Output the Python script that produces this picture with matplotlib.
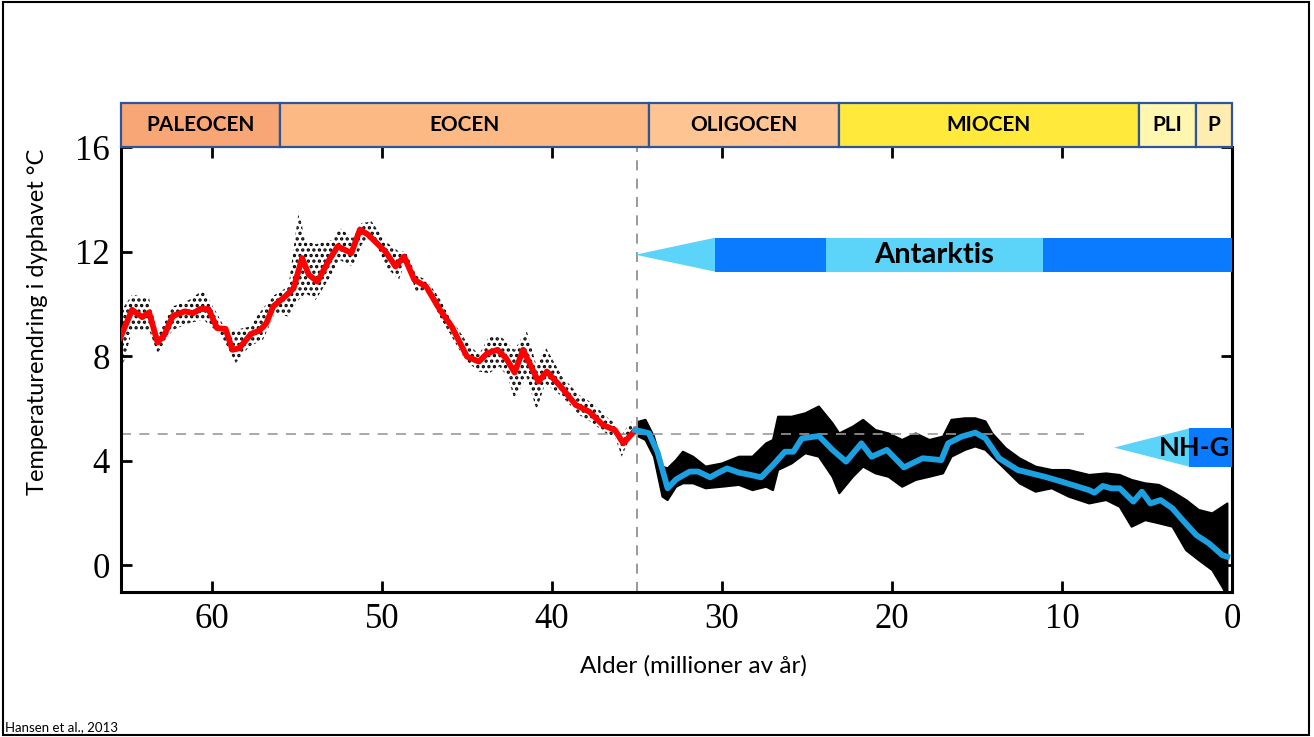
import numpy as np
import matplotlib
matplotlib.use('Agg')
import matplotlib.pyplot as plt
from matplotlib.patches import Rectangle, Polygon

# glattet kurve, paleocen-eocen (rød)
red_age = [65.4, 64.7, 64.1, 63.7, 63.2, 62.8, 62.3, 61.6, 61.1, 60.7, 60.2, 59.7, 59.2, 58.8,
           58.4, 57.7, 57.2, 56.8, 56.4, 55.7, 55.2, 54.7, 54.3, 53.8, 53.1, 52.6, 51.8, 51.3,
           50.8, 49.8, 49.2, 48.7, 48.1, 47.4, 46.6, 45.9, 45.0, 44.3, 43.8, 43.2, 42.7, 42.2,
           41.7, 40.8, 40.3, 39.4, 38.6, 37.8, 37.0, 36.3, 35.8, 35.1]
red_temp = [8.69, 9.77, 9.49, 9.67, 8.52, 8.81, 9.54, 9.71, 9.64, 9.80, 9.80, 9.07, 9.04, 8.24,
            8.30, 8.85, 8.98, 9.26, 9.90, 10.28, 10.60, 11.75, 11.11, 10.85, 11.69, 12.20, 11.94, 12.84,
            12.64, 12.00, 11.43, 11.81, 10.92, 10.66, 9.78, 9.13, 7.98, 7.79, 8.11, 8.24, 7.92, 7.37,
            8.24, 7.02, 7.41, 6.77, 6.13, 5.87, 5.36, 5.17, 4.66, 5.17]

# glattet kurve, oligocen-i dag (blå)
blue_age = [35.1, 34.3, 33.8, 33.5, 33.2, 32.7, 31.9, 31.4, 30.7, 30.2, 29.7, 29.0, 28.3, 27.7,
            27.0, 26.3, 25.8, 25.3, 24.3, 23.5, 22.7, 21.8, 21.2, 20.3, 19.3, 18.2, 17.1, 16.7,
            15.9, 15.1, 14.5, 13.7, 12.6, 11.0, 10.0, 8.4, 8.1, 7.6, 7.1, 6.6, 5.8, 5.3,
            4.8, 4.2, 3.5, 2.9, 2.1, 1.35, 0.57, 0.28]
blue_temp = [5.17, 5.05, 4.34, 3.64, 2.94, 3.28, 3.58, 3.58, 3.36, 3.54, 3.70, 3.54, 3.45, 3.36,
             3.83, 4.34, 4.34, 4.85, 4.94, 4.41, 3.96, 4.66, 4.15, 4.41, 3.74, 4.09, 4.02, 4.66,
             4.92, 5.07, 4.85, 4.09, 3.64, 3.38, 3.19, 2.87, 2.77, 3.03, 2.94, 2.94, 2.43, 2.81,
             2.36, 2.49, 2.17, 1.72, 1.15, 0.83, 0.38, 0.32]

# spredning av målepunkter (øvre/nedre kant), glissen del
sparse_age = [65.3, 64.7, 63.7, 63.2, 62.3, 61.35, 60.5, 59.6, 59.1, 58.6, 57.8, 57.0, 56.3, 55.5,
              54.9, 54.5, 53.9, 52.9, 52.5, 51.7, 51.2, 50.6, 49.8, 49.0, 48.6, 48.0, 47.4, 46.6,
              45.9, 45.1, 44.3, 43.7, 43.1, 42.6, 42.2, 41.5, 40.9, 40.4, 39.4, 38.4, 37.6, 36.8,
              36.3, 35.9, 35.3]
sparse_hi = [9.77, 10.35, 10.22, 8.88, 9.90, 10.15, 10.54, 9.50, 8.90, 9.00, 9.13, 9.83, 10.35, 10.66,
             13.54, 12.41, 12.28, 12.45, 12.90, 12.52, 13.09, 13.15, 12.39, 12.00, 12.00, 11.10, 10.92, 10.20,
             9.39, 8.62, 8.05, 8.75, 8.81, 8.49, 8.24, 9.00, 7.60, 8.37, 7.21, 6.51, 6.19, 5.68,
             5.43, 4.98, 5.56]
sparse_lo = [7.47, 9.00, 9.00, 8.11, 9.00, 9.26, 9.39, 8.88, 8.37, 7.73, 8.37, 8.62, 9.64, 9.51,
             10.15, 10.41, 10.15, 11.18, 11.68, 11.42, 12.26, 12.58, 11.43, 10.92, 11.68, 10.47, 10.53, 9.50,
             8.75, 7.85, 7.41, 7.34, 7.60, 7.21, 6.32, 7.21, 5.94, 6.96, 6.45, 5.75, 5.43, 5.04,
             4.92, 4.15, 5.04]

# tett del
dense_age = [34.9, 34.5, 34.0, 33.5, 33.2, 32.7, 32.3, 31.7, 30.96, 30.0, 29.0, 28.2, 27.4, 27.0,
             26.7, 25.9, 25.1, 24.3, 23.5, 23.1, 22.3, 21.7, 20.97, 20.2, 19.4, 18.6, 17.8, 17.0,
             16.5, 15.7, 15.1, 14.5, 14.1, 13.3, 12.5, 11.55, 10.6, 9.6, 8.4, 7.4, 6.6, 5.9,
             5.1, 4.3, 3.5, 2.7, 1.95, 1.16, 0.57, 0.27]
dense_hi = [5.49, 5.56, 4.92, 3.77, 3.70, 4.02, 4.34, 4.15, 3.77, 3.89, 4.15, 4.15, 4.66, 4.79,
            5.68, 5.68, 5.81, 6.07, 5.43, 5.04, 5.30, 5.56, 5.17, 5.04, 4.79, 5.04, 4.79, 4.92,
            5.56, 5.62, 5.62, 5.50, 5.04, 4.47, 4.09, 3.77, 3.64, 3.64, 3.45, 3.51, 3.45, 3.26,
            3.13, 3.07, 2.81, 2.49, 2.11, 1.98, 2.23, 2.36]
dense_lo = [4.92, 4.79, 4.15, 2.62, 2.49, 3.00, 3.13, 3.13, 2.94, 3.00, 3.07, 2.87, 3.00, 2.87,
            3.64, 3.89, 4.28, 4.15, 3.38, 2.75, 3.38, 3.77, 3.51, 3.38, 3.00, 3.26, 3.38, 3.51,
            4.15, 4.41, 4.54, 4.41, 4.15, 3.64, 3.13, 2.81, 2.94, 2.62, 2.36, 2.49, 2.23, 1.47,
            1.72, 1.60, 1.47, 0.57, 0.19, -0.19, -0.83, -1.20]

# epoker
epoch_names = ['PALEOCEN', 'EOCEN', 'OLIGOCEN', 'MIOCEN', 'PLI', 'P']
epoch_start = [65.35, 56.0, 34.3, 23.1, 5.5, 2.1]
epoch_end = [56.0, 34.3, 23.1, 5.5, 2.1, 0.0]
epoch_col = ['#F8A676', '#FDB984', '#FEC592', '#FFEA3C', '#FFF6B0', '#FFECB0']

# isdekker
ant = dict(tip=35.1, dark1=30.4, light1=23.9, light2=11.1, end=0.0, y=11.88, h=0.65)
nhg = dict(tip=6.94, dark1=2.53, end=0.0, y=4.5, h=0.73)

dark_blue = '#0A7BFF'
light_blue = '#5CD3F8'
sans = ['Lato', 'DejaVu Sans']
serif = ['Liberation Serif', 'DejaVu Serif']

plt.rcParams['hatch.linewidth'] = 1.6

fig = plt.figure(figsize=(13.14, 7.37), dpi=100)
ax = fig.add_axes([0.0921, 0.1967, 0.8455, 0.6038])

ax.fill_between(sparse_age, sparse_lo, sparse_hi, facecolor='none', edgecolor='black',
                hatch='...', linewidth=0, zorder=1)
ax.fill_between(dense_age, dense_lo, dense_hi, facecolor='black', edgecolor='black',
                hatch='...', linewidth=1.5, zorder=1)

ax.plot(red_age, red_temp, color='#FF0000', lw=4.2, zorder=3)
ax.plot(blue_age, blue_temp, color='#1BA1E2', lw=4.2, zorder=3)

# stiplede hjelpelinjer
ax.plot([65.35, 8.7], [5, 5], color='#999999', lw=1.2, ls=(0, (6, 5)), zorder=2)
ax.axvline(35.0, color='#888888', lw=1.2, ls=(0, (6, 5)), zorder=2)

# Antarktis-pil
a = ant
ax.add_patch(Polygon([[a['tip'], a['y']], [a['dark1'], a['y'] + a['h']], [a['dark1'], a['y'] - a['h']]],
                     closed=True, fc=light_blue, ec='none', zorder=4))
ax.add_patch(Rectangle((a['light1'], a['y'] - a['h']), a['dark1'] - a['light1'], 2 * a['h'],
                       fc=dark_blue, ec='none', zorder=4))
ax.add_patch(Rectangle((a['light2'], a['y'] - a['h']), a['light1'] - a['light2'], 2 * a['h'],
                       fc=light_blue, ec='none', zorder=4))
ax.add_patch(Rectangle((a['end'], a['y'] - a['h']), a['light2'] - a['end'], 2 * a['h'],
                       fc=dark_blue, ec='none', zorder=4))
ax.text((a['light1'] + a['light2']) / 2, a['y'], 'Antarktis', ha='center', va='center',
        fontsize=21, fontweight='bold', family=sans, zorder=5)

# NH-G-pil
n = nhg
ax.add_patch(Polygon([[n['tip'], n['y']], [n['dark1'], n['y'] + n['h']], [n['dark1'], n['y'] - n['h']]],
                     closed=True, fc=light_blue, ec='none', zorder=4))
ax.add_patch(Rectangle((n['end'], n['y'] - n['h']), n['dark1'] - n['end'], 2 * n['h'],
                       fc=dark_blue, ec='none', zorder=4))
ax.text(2.2, n['y'], 'NH-G', ha='center', va='center', fontsize=19.5, fontweight='bold',
        family=sans, zorder=5)

ax.set_xlim(65.35, 0)
ax.set_ylim(-1.03, 16)
ax.set_xticks([60, 50, 40, 30, 20, 10, 0])
ax.set_yticks([0, 4, 8, 12, 16])
ax.tick_params(direction='in', top=True, right=True, length=8, width=2, labelsize=25, pad=8)
for lab in ax.get_xticklabels() + ax.get_yticklabels():
    lab.set_family(serif)
for s in ['left', 'bottom', 'right']:
    ax.spines[s].set_linewidth(2.2)
ax.spines['top'].set_visible(False)

ax.set_xlabel('Alder (millioner av år)', fontsize=17.5, family=sans)
ax.set_ylabel('Temperaturendring i dyphavet °C', fontsize=17, family=sans)
ax.xaxis.set_label_coords(0.515, -0.142)
ax.yaxis.set_label_coords(-0.0657, 0.607)

# epokebånd
eax = fig.add_axes([0.0921, 0.8005, 0.8455, 0.0597])
eax.set_xlim(65.35, 0)
eax.set_ylim(0, 1)
eax.axis('off')
for name, s, e, c in zip(epoch_names, epoch_start, epoch_end, epoch_col):
    eax.add_patch(Rectangle((e, 0), s - e, 1, fc=c, ec='#2F5597', lw=1.6, clip_on=False))
    eax.text((s + e) / 2, 0.5, name, ha='center', va='center', fontsize=15,
             fontweight='bold', family=sans)

fig.add_artist(Rectangle((0.002, 0.003), 0.994, 0.994, transform=fig.transFigure,
                         fill=False, ec='black', lw=1.5))
fig.text(0.004, 0.008, 'Hansen et al., 2013', fontsize=9.5, family=sans)

fig.savefig('out.png', dpi=100)
